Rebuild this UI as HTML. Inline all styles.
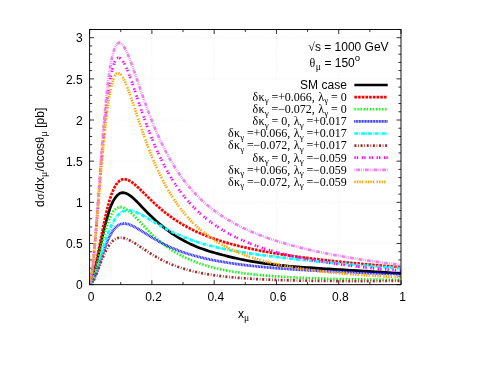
<!DOCTYPE html>
<html><head><meta charset="utf-8"><title>plot</title>
<style>
html,body{margin:0;padding:0;background:#fff;}
body{width:480px;height:371px;overflow:hidden;}
svg{display:block;will-change:transform;}
text{font-family:"Liberation Sans",sans-serif;font-size:12px;fill:#000;}
.sf{font-family:"Liberation Serif",serif;}
</style></head><body>
<svg width="480" height="371" viewBox="0 0 480 371">
<rect width="480" height="371" fill="#fff"/>
<g stroke="#e2e2e2" stroke-width="0.5" stroke-dasharray="0.9,1.25" fill="none"><line x1="89.6" x2="401.0" y1="243.49" y2="243.49"/><line x1="89.6" x2="401.0" y1="202.33" y2="202.33"/><line x1="89.6" x2="401.0" y1="161.17" y2="161.17"/><line x1="89.6" x2="401.0" y1="120.01" y2="120.01"/><line x1="89.6" x2="401.0" y1="78.85" y2="78.85"/><line x1="89.6" x2="401.0" y1="37.69" y2="37.69"/><line x1="151.88" x2="151.88" y1="29.5" y2="284.65"/><line x1="214.16" x2="214.16" y1="29.5" y2="284.65"/><line x1="276.44" x2="276.44" y1="29.5" y2="284.65"/><line x1="338.72" x2="338.72" y1="29.5" y2="284.65"/></g>
<rect x="186.9" y="79.6" width="214.1" height="108" fill="#fff"/>
<path d="M89.6,284.65h4.5 M401.0,284.65h-4.5 M89.6,276.42h2.6 M401.0,276.42h-2.6 M89.6,268.19h2.6 M401.0,268.19h-2.6 M89.6,259.95h2.6 M401.0,259.95h-2.6 M89.6,251.72h2.6 M401.0,251.72h-2.6 M89.6,243.49h4.5 M401.0,243.49h-4.5 M89.6,235.26h2.6 M401.0,235.26h-2.6 M89.6,227.03h2.6 M401.0,227.03h-2.6 M89.6,218.79h2.6 M401.0,218.79h-2.6 M89.6,210.56h2.6 M401.0,210.56h-2.6 M89.6,202.33h4.5 M401.0,202.33h-4.5 M89.6,194.10h2.6 M401.0,194.10h-2.6 M89.6,185.87h2.6 M401.0,185.87h-2.6 M89.6,177.63h2.6 M401.0,177.63h-2.6 M89.6,169.40h2.6 M401.0,169.40h-2.6 M89.6,161.17h4.5 M401.0,161.17h-4.5 M89.6,152.94h2.6 M401.0,152.94h-2.6 M89.6,144.71h2.6 M401.0,144.71h-2.6 M89.6,136.47h2.6 M401.0,136.47h-2.6 M89.6,128.24h2.6 M401.0,128.24h-2.6 M89.6,120.01h4.5 M401.0,120.01h-4.5 M89.6,111.78h2.6 M401.0,111.78h-2.6 M89.6,103.55h2.6 M401.0,103.55h-2.6 M89.6,95.31h2.6 M401.0,95.31h-2.6 M89.6,87.08h2.6 M401.0,87.08h-2.6 M89.6,78.85h4.5 M401.0,78.85h-4.5 M89.6,70.62h2.6 M401.0,70.62h-2.6 M89.6,62.39h2.6 M401.0,62.39h-2.6 M89.6,54.15h2.6 M401.0,54.15h-2.6 M89.6,45.92h2.6 M401.0,45.92h-2.6 M89.6,37.69h4.5 M401.0,37.69h-4.5 M89.6,29.46h2.6 M401.0,29.46h-2.6 M89.60,284.65v-4.5 M89.60,29.5v4.5 M120.74,284.65v-2.6 M120.74,29.5v2.6 M151.88,284.65v-4.5 M151.88,29.5v4.5 M183.02,284.65v-2.6 M183.02,29.5v2.6 M214.16,284.65v-4.5 M214.16,29.5v4.5 M245.30,284.65v-2.6 M245.30,29.5v2.6 M276.44,284.65v-4.5 M276.44,29.5v4.5 M307.58,284.65v-2.6 M307.58,29.5v2.6 M338.72,284.65v-4.5 M338.72,29.5v4.5 M369.86,284.65v-2.6 M369.86,29.5v2.6 M401.00,284.65v-4.5 M401.00,29.5v4.5" stroke="#000" stroke-width="0.8" fill="none"/>
<defs><filter id="bl" x="-5%" y="-5%" width="110%" height="110%"><feGaussianBlur stdDeviation="0.35"/></filter></defs>
<clipPath id="cp"><rect x="89.6" y="29.5" width="311.40" height="255.15"/></clipPath>
<g filter="url(#bl)" clip-path="url(#cp)">
<path d="M89.60,284.65 L91.17,282.30 L92.75,277.99 L94.32,272.46 L95.89,266.08 L97.46,259.15 L99.04,251.92 L100.61,244.63 L102.18,237.46 L103.75,230.60 L105.33,224.17 L106.90,218.28 L108.47,213.00 L110.05,208.35 L111.62,204.37 L113.19,201.09 L114.76,198.47 L116.34,196.36 L117.91,194.72 L119.48,193.58 L121.05,192.92 L122.63,192.67 L124.20,192.79 L125.77,193.22 L127.35,193.91 L128.92,194.82 L130.49,195.90 L132.06,197.13 L133.64,198.49 L135.21,199.95 L136.78,201.51 L138.35,203.13 L139.93,204.78 L141.50,206.46 L143.07,208.12 L144.65,209.77 L146.22,211.39 L147.79,212.97 L149.36,214.52 L150.94,216.03 L152.51,217.52 L154.08,218.98 L155.65,220.42 L157.23,221.82 L158.80,223.20 L160.37,224.55 L161.95,225.86 L163.52,227.14 L165.09,228.39 L166.66,229.60 L168.24,230.77 L169.81,231.92 L171.38,233.03 L172.95,234.10 L174.53,235.15 L176.10,236.16 L177.67,237.13 L179.25,238.08 L180.82,239.00 L182.39,239.89 L183.96,240.74 L187.11,242.38 L190.25,243.90 L193.40,245.33 L196.55,246.66 L199.69,247.89 L202.84,249.05 L205.98,250.14 L209.13,251.16 L212.27,252.12 L215.42,253.04 L218.56,253.91 L221.71,254.75 L224.85,255.56 L228.00,256.34 L231.15,257.10 L234.29,257.83 L237.44,258.54 L240.58,259.23 L243.73,259.88 L246.87,260.51 L250.02,261.11 L253.16,261.67 L256.31,262.19 L259.45,262.69 L262.60,263.15 L265.75,263.58 L268.89,263.99 L272.04,264.37 L275.18,264.73 L278.33,265.07 L281.47,265.40 L284.62,265.70 L287.76,265.99 L290.91,266.27 L294.05,266.54 L297.20,266.79 L300.35,267.03 L303.49,267.27 L306.64,267.50 L309.78,267.72 L312.93,267.93 L316.07,268.14 L319.22,268.34 L322.36,268.54 L325.51,268.74 L328.65,268.93 L331.80,269.12 L334.95,269.31 L338.09,269.50 L341.24,269.69 L344.38,269.87 L347.53,270.06 L350.67,270.24 L353.82,270.43 L356.96,270.62 L360.11,270.80 L363.25,270.99 L366.40,271.18 L369.55,271.37 L372.69,271.57 L375.84,271.76 L378.98,271.96 L382.13,272.16 L385.27,272.36 L388.42,272.56 L391.56,272.77 L394.71,272.98 L397.85,273.20 L401.00,273.41" stroke="#000000" stroke-width="2.7" fill="none" stroke-linejoin="round"/>
<path d="M89.60,284.65 L91.17,281.95 L92.75,277.12 L94.32,270.97 L95.89,263.89 L97.46,256.19 L99.04,248.14 L100.61,239.99 L102.18,231.95 L103.75,224.21 L105.33,216.92 L106.90,210.20 L108.47,204.14 L110.05,198.77 L111.62,194.11 L113.19,190.17 L114.76,186.92 L116.34,184.32 L117.91,182.32 L119.48,180.86 L121.05,179.88 L122.63,179.33 L124.20,179.16 L125.77,179.33 L127.35,179.77 L128.92,180.46 L130.49,181.34 L132.06,182.39 L133.64,183.57 L135.21,184.87 L136.78,186.24 L138.35,187.69 L139.93,189.18 L141.50,190.70 L143.07,192.24 L144.65,193.80 L146.22,195.35 L147.79,196.90 L149.36,198.44 L150.94,199.96 L152.51,201.46 L154.08,202.93 L155.65,204.38 L157.23,205.80 L158.80,207.19 L160.37,208.55 L161.95,209.88 L163.52,211.18 L165.09,212.44 L166.66,213.67 L168.24,214.87 L169.81,216.04 L171.38,217.18 L172.95,218.28 L174.53,219.36 L176.10,220.41 L177.67,221.43 L179.25,222.42 L180.82,223.38 L182.39,224.32 L183.96,225.23 L187.11,226.99 L190.25,228.65 L193.40,230.22 L196.55,231.71 L199.69,233.12 L202.84,234.46 L205.98,235.74 L209.13,236.95 L212.27,238.11 L215.42,239.21 L218.56,240.26 L221.71,241.26 L224.85,242.22 L228.00,243.14 L231.15,244.02 L234.29,244.86 L237.44,245.67 L240.58,246.45 L243.73,247.19 L246.87,247.91 L250.02,248.60 L253.16,249.27 L256.31,249.92 L259.45,250.54 L262.60,251.14 L265.75,251.72 L268.89,252.28 L272.04,252.83 L275.18,253.36 L278.33,253.87 L281.47,254.37 L284.62,254.86 L287.76,255.33 L290.91,255.79 L294.05,256.24 L297.20,256.67 L300.35,257.10 L303.49,257.51 L306.64,257.92 L309.78,258.32 L312.93,258.70 L316.07,259.08 L319.22,259.45 L322.36,259.82 L325.51,260.18 L328.65,260.53 L331.80,260.87 L334.95,261.21 L338.09,261.54 L341.24,261.86 L344.38,262.18 L347.53,262.50 L350.67,262.81 L353.82,263.11 L356.96,263.41 L360.11,263.71 L363.25,264.00 L366.40,264.28 L369.55,264.57 L372.69,264.84 L375.84,265.12 L378.98,265.39 L382.13,265.66 L385.27,265.92 L388.42,266.19 L391.56,266.44 L394.71,266.70 L397.85,266.95 L401.00,267.20" stroke="#ff0000" stroke-width="2.7" fill="none" stroke-linejoin="round" stroke-dasharray="2.614,1.076"/>
<path d="M89.60,284.65 L91.17,283.38 L92.75,280.06 L94.32,275.21 L95.89,269.28 L97.46,262.69 L99.04,255.80 L100.61,248.91 L102.18,242.27 L103.75,236.04 L105.33,230.36 L106.90,225.30 L108.47,220.91 L110.05,217.18 L111.62,214.11 L113.19,211.65 L114.76,209.78 L116.34,208.46 L117.91,207.63 L119.48,207.22 L121.05,207.20 L122.63,207.50 L124.20,208.09 L125.77,208.91 L127.35,209.94 L128.92,211.13 L130.49,212.46 L132.06,213.89 L133.64,215.41 L135.21,216.99 L136.78,218.62 L138.35,220.27 L139.93,221.94 L141.50,223.61 L143.07,225.27 L144.65,226.92 L146.22,228.56 L147.79,230.16 L149.36,231.74 L150.94,233.29 L152.51,234.80 L154.08,236.27 L155.65,237.71 L157.23,239.10 L158.80,240.46 L160.37,241.77 L161.95,243.05 L163.52,244.28 L165.09,245.47 L166.66,246.63 L168.24,247.75 L169.81,248.83 L171.38,249.87 L172.95,250.88 L174.53,251.85 L176.10,252.79 L177.67,253.69 L179.25,254.57 L180.82,255.41 L182.39,256.23 L183.96,257.01 L187.11,258.51 L190.25,259.89 L193.40,261.19 L196.55,262.39 L199.69,263.52 L202.84,264.56 L205.98,265.54 L209.13,266.45 L212.27,267.30 L215.42,268.09 L218.56,268.83 L221.71,269.52 L224.85,270.16 L228.00,270.76 L231.15,271.33 L234.29,271.85 L237.44,272.34 L240.58,272.80 L243.73,273.23 L246.87,273.63 L250.02,274.01 L253.16,274.36 L256.31,274.69 L259.45,275.00 L262.60,275.30 L265.75,275.57 L268.89,275.83 L272.04,276.08 L275.18,276.31 L278.33,276.52 L281.47,276.73 L284.62,276.92 L287.76,277.10 L290.91,277.28 L294.05,277.44 L297.20,277.59 L300.35,277.74 L303.49,277.88 L306.64,278.01 L309.78,278.13 L312.93,278.25 L316.07,278.36 L319.22,278.47 L322.36,278.57 L325.51,278.66 L328.65,278.75 L331.80,278.84 L334.95,278.92 L338.09,279.00 L341.24,279.07 L344.38,279.14 L347.53,279.20 L350.67,279.27 L353.82,279.32 L356.96,279.38 L360.11,279.43 L363.25,279.48 L366.40,279.53 L369.55,279.57 L372.69,279.62 L375.84,279.65 L378.98,279.69 L382.13,279.72 L385.27,279.76 L388.42,279.79 L391.56,279.81 L394.71,279.84 L397.85,279.86 L401.00,279.88" stroke="#00ff00" stroke-width="2.7" fill="none" stroke-linejoin="round" stroke-dasharray="1.384,1.691"/>
<path d="M89.60,284.65 L91.17,283.49 L92.75,281.10 L94.32,277.86 L95.89,273.99 L97.46,269.66 L99.04,265.05 L100.61,260.30 L102.18,255.57 L103.75,250.98 L105.33,246.62 L106.90,242.58 L108.47,238.90 L110.05,235.64 L111.62,232.79 L113.19,230.38 L114.76,228.38 L116.34,226.78 L117.91,225.55 L119.48,224.64 L121.05,224.03 L122.63,223.69 L124.20,223.59 L125.77,223.70 L127.35,223.98 L128.92,224.42 L130.49,224.99 L132.06,225.66 L133.64,226.42 L135.21,227.24 L136.78,228.12 L138.35,229.05 L139.93,230.00 L141.50,230.97 L143.07,231.96 L144.65,232.95 L146.22,233.94 L147.79,234.92 L149.36,235.90 L150.94,236.86 L152.51,237.81 L154.08,238.74 L155.65,239.65 L157.23,240.54 L158.80,241.42 L160.37,242.27 L161.95,243.10 L163.52,243.90 L165.09,244.69 L166.66,245.45 L168.24,246.19 L169.81,246.91 L171.38,247.61 L172.95,248.29 L174.53,248.95 L176.10,249.59 L177.67,250.20 L179.25,250.80 L180.82,251.39 L182.39,251.95 L183.96,252.50 L187.11,253.54 L190.25,254.53 L193.40,255.45 L196.55,256.32 L199.69,257.14 L202.84,257.92 L205.98,258.65 L209.13,259.34 L212.27,259.99 L215.42,260.60 L218.56,261.19 L221.71,261.74 L224.85,262.27 L228.00,262.77 L231.15,263.24 L234.29,263.69 L237.44,264.13 L240.58,264.54 L243.73,264.93 L246.87,265.30 L250.02,265.66 L253.16,266.00 L256.31,266.33 L259.45,266.64 L262.60,266.94 L265.75,267.23 L268.89,267.51 L272.04,267.78 L275.18,268.04 L278.33,268.29 L281.47,268.53 L284.62,268.76 L287.76,268.98 L290.91,269.20 L294.05,269.41 L297.20,269.61 L300.35,269.81 L303.49,270.00 L306.64,270.18 L309.78,270.37 L312.93,270.54 L316.07,270.71 L319.22,270.88 L322.36,271.04 L325.51,271.20 L328.65,271.35 L331.80,271.50 L334.95,271.65 L338.09,271.79 L341.24,271.94 L344.38,272.07 L347.53,272.21 L350.67,272.34 L353.82,272.47 L356.96,272.60 L360.11,272.73 L363.25,272.85 L366.40,272.97 L369.55,273.10 L372.69,273.21 L375.84,273.33 L378.98,273.45 L382.13,273.56 L385.27,273.67 L388.42,273.78 L391.56,273.89 L394.71,274.00 L397.85,274.11 L401.00,274.21" stroke="#0000ff" stroke-opacity="0.22" stroke-width="2.7" fill="none" stroke-linejoin="round"/>
<path d="M89.60,284.65 L91.17,283.49 L92.75,281.10 L94.32,277.86 L95.89,273.99 L97.46,269.66 L99.04,265.05 L100.61,260.30 L102.18,255.57 L103.75,250.98 L105.33,246.62 L106.90,242.58 L108.47,238.90 L110.05,235.64 L111.62,232.79 L113.19,230.38 L114.76,228.38 L116.34,226.78 L117.91,225.55 L119.48,224.64 L121.05,224.03 L122.63,223.69 L124.20,223.59 L125.77,223.70 L127.35,223.98 L128.92,224.42 L130.49,224.99 L132.06,225.66 L133.64,226.42 L135.21,227.24 L136.78,228.12 L138.35,229.05 L139.93,230.00 L141.50,230.97 L143.07,231.96 L144.65,232.95 L146.22,233.94 L147.79,234.92 L149.36,235.90 L150.94,236.86 L152.51,237.81 L154.08,238.74 L155.65,239.65 L157.23,240.54 L158.80,241.42 L160.37,242.27 L161.95,243.10 L163.52,243.90 L165.09,244.69 L166.66,245.45 L168.24,246.19 L169.81,246.91 L171.38,247.61 L172.95,248.29 L174.53,248.95 L176.10,249.59 L177.67,250.20 L179.25,250.80 L180.82,251.39 L182.39,251.95 L183.96,252.50 L187.11,253.54 L190.25,254.53 L193.40,255.45 L196.55,256.32 L199.69,257.14 L202.84,257.92 L205.98,258.65 L209.13,259.34 L212.27,259.99 L215.42,260.60 L218.56,261.19 L221.71,261.74 L224.85,262.27 L228.00,262.77 L231.15,263.24 L234.29,263.69 L237.44,264.13 L240.58,264.54 L243.73,264.93 L246.87,265.30 L250.02,265.66 L253.16,266.00 L256.31,266.33 L259.45,266.64 L262.60,266.94 L265.75,267.23 L268.89,267.51 L272.04,267.78 L275.18,268.04 L278.33,268.29 L281.47,268.53 L284.62,268.76 L287.76,268.98 L290.91,269.20 L294.05,269.41 L297.20,269.61 L300.35,269.81 L303.49,270.00 L306.64,270.18 L309.78,270.37 L312.93,270.54 L316.07,270.71 L319.22,270.88 L322.36,271.04 L325.51,271.20 L328.65,271.35 L331.80,271.50 L334.95,271.65 L338.09,271.79 L341.24,271.94 L344.38,272.07 L347.53,272.21 L350.67,272.34 L353.82,272.47 L356.96,272.60 L360.11,272.73 L363.25,272.85 L366.40,272.97 L369.55,273.10 L372.69,273.21 L375.84,273.33 L378.98,273.45 L382.13,273.56 L385.27,273.67 L388.42,273.78 L391.56,273.89 L394.71,274.00 L397.85,274.11 L401.00,274.21" stroke="#0000ff" stroke-width="2.7" fill="none" stroke-linejoin="round" stroke-dasharray="0.646,0.892"/>
<path d="M89.60,284.65 L91.17,283.31 L92.75,280.59 L94.32,276.92 L95.89,272.55 L97.46,267.67 L99.04,262.48 L100.61,257.13 L102.18,251.79 L103.75,246.56 L105.33,241.56 L106.90,236.86 L108.47,232.52 L110.05,228.59 L111.62,225.07 L113.19,221.98 L114.76,219.31 L116.34,217.05 L117.91,215.18 L119.48,213.68 L121.05,212.51 L122.63,211.62 L124.20,211.00 L125.77,210.61 L127.35,210.44 L128.92,210.45 L130.49,210.63 L132.06,210.95 L133.64,211.39 L135.21,211.93 L136.78,212.56 L138.35,213.27 L139.93,214.03 L141.50,214.84 L143.07,215.69 L144.65,216.57 L146.22,217.47 L147.79,218.38 L149.36,219.31 L150.94,220.24 L152.51,221.17 L154.08,222.10 L155.65,223.02 L157.23,223.93 L158.80,224.84 L160.37,225.73 L161.95,226.61 L163.52,227.48 L165.09,228.33 L166.66,229.17 L168.24,229.98 L169.81,230.79 L171.38,231.57 L172.95,232.34 L174.53,233.08 L176.10,233.82 L177.67,234.53 L179.25,235.22 L180.82,235.90 L182.39,236.56 L183.96,237.21 L187.11,238.44 L190.25,239.62 L193.40,240.73 L196.55,241.78 L199.69,242.78 L202.84,243.72 L205.98,244.62 L209.13,245.47 L212.27,246.27 L215.42,247.03 L218.56,247.75 L221.71,248.44 L224.85,249.09 L228.00,249.71 L231.15,250.31 L234.29,250.88 L237.44,251.42 L240.58,251.95 L243.73,252.45 L246.87,252.94 L250.02,253.41 L253.16,253.87 L256.31,254.31 L259.45,254.75 L262.60,255.17 L265.75,255.58 L268.89,255.99 L272.04,256.38 L275.18,256.77 L278.33,257.16 L281.47,257.54 L284.62,257.91 L287.76,258.28 L290.91,258.64 L294.05,258.99 L297.20,259.34 L300.35,259.69 L303.49,260.03 L306.64,260.36 L309.78,260.69 L312.93,261.02 L316.07,261.34 L319.22,261.65 L322.36,261.96 L325.51,262.26 L328.65,262.56 L331.80,262.86 L334.95,263.15 L338.09,263.43 L341.24,263.72 L344.38,263.99 L347.53,264.26 L350.67,264.53 L353.82,264.80 L356.96,265.06 L360.11,265.31 L363.25,265.56 L366.40,265.81 L369.55,266.05 L372.69,266.29 L375.84,266.52 L378.98,266.75 L382.13,266.98 L385.27,267.20 L388.42,267.42 L391.56,267.63 L394.71,267.84 L397.85,268.04 L401.00,268.25" stroke="#00ffff" stroke-width="2.7" fill="none" stroke-linejoin="round" stroke-dasharray="3.844,1.076,0.769,1.076"/>
<path d="M89.60,284.65 L91.17,283.93 L92.75,281.94 L94.32,278.99 L95.89,275.38 L97.46,271.38 L99.04,267.21 L100.61,263.06 L102.18,259.07 L103.75,255.33 L105.33,251.92 L106.90,248.87 L108.47,246.21 L110.05,243.95 L111.62,242.07 L113.19,240.57 L114.76,239.42 L116.34,238.57 L117.91,238.01 L119.48,237.71 L121.05,237.65 L122.63,237.78 L124.20,238.10 L125.77,238.57 L127.35,239.17 L128.92,239.88 L130.49,240.68 L132.06,241.55 L133.64,242.48 L135.21,243.45 L136.78,244.46 L138.35,245.50 L139.93,246.54 L141.50,247.60 L143.07,248.65 L144.65,249.70 L146.22,250.74 L147.79,251.76 L149.36,252.77 L150.94,253.75 L152.51,254.72 L154.08,255.66 L155.65,256.58 L157.23,257.47 L158.80,258.34 L160.37,259.18 L161.95,259.99 L163.52,260.78 L165.09,261.54 L166.66,262.28 L168.24,262.99 L169.81,263.67 L171.38,264.33 L172.95,264.96 L174.53,265.57 L176.10,266.16 L177.67,266.73 L179.25,267.28 L180.82,267.80 L182.39,268.30 L183.96,268.79 L187.11,269.70 L190.25,270.55 L193.40,271.33 L196.55,272.05 L199.69,272.72 L202.84,273.34 L205.98,273.91 L209.13,274.44 L212.27,274.93 L215.42,275.39 L218.56,275.81 L221.71,276.20 L224.85,276.56 L228.00,276.90 L231.15,277.22 L234.29,277.51 L237.44,277.78 L240.58,278.03 L243.73,278.27 L246.87,278.49 L250.02,278.69 L253.16,278.88 L256.31,279.06 L259.45,279.22 L262.60,279.38 L265.75,279.52 L268.89,279.66 L272.04,279.78 L275.18,279.90 L278.33,280.01 L281.47,280.11 L284.62,280.21 L287.76,280.29 L290.91,280.38 L294.05,280.45 L297.20,280.52 L300.35,280.59 L303.49,280.65 L306.64,280.71 L309.78,280.76 L312.93,280.80 L316.07,280.85 L319.22,280.89 L322.36,280.92 L325.51,280.95 L328.65,280.98 L331.80,281.01 L334.95,281.03 L338.09,281.05 L341.24,281.06 L344.38,281.08 L347.53,281.09 L350.67,281.09 L353.82,281.10 L356.96,281.10 L360.11,281.10 L363.25,281.09 L366.40,281.09 L369.55,281.08 L372.69,281.06 L375.84,281.05 L378.98,281.03 L382.13,281.01 L385.27,280.99 L388.42,280.96 L391.56,280.94 L394.71,280.90 L397.85,280.87 L401.00,280.83" stroke="#a52a2a" stroke-width="2.7" fill="none" stroke-linejoin="round" stroke-dasharray="1.999,1.691,0.769,1.691"/>
<path d="M89.60,284.65 L91.17,278.55 L92.75,266.42 L94.32,250.48 L95.89,231.96 L97.46,211.91 L99.04,191.24 L100.61,170.77 L102.18,151.18 L103.75,133.00 L105.33,116.61 L106.90,102.25 L108.47,90.04 L110.05,79.98 L111.62,72.00 L113.19,65.98 L114.76,61.74 L116.34,59.10 L117.91,57.87 L119.48,57.84 L121.05,58.85 L122.63,60.72 L124.20,63.30 L125.77,66.46 L127.35,70.07 L128.92,74.03 L130.49,78.26 L132.06,82.69 L133.64,87.24 L135.21,91.87 L136.78,96.53 L138.35,101.20 L139.93,105.83 L141.50,110.41 L143.07,114.92 L144.65,119.35 L146.22,123.68 L147.79,127.91 L149.36,132.04 L150.94,136.04 L152.51,139.94 L154.08,143.72 L155.65,147.38 L157.23,150.93 L158.80,154.37 L160.37,157.69 L161.95,160.91 L163.52,164.01 L165.09,167.02 L166.66,169.92 L168.24,172.73 L169.81,175.45 L171.38,178.07 L172.95,180.60 L174.53,183.05 L176.10,185.42 L177.67,187.71 L179.25,189.93 L180.82,192.07 L182.39,194.14 L183.96,196.14 L187.11,199.96 L190.25,203.54 L193.40,206.89 L196.55,210.05 L199.69,213.01 L202.84,215.80 L205.98,218.43 L209.13,220.91 L212.27,223.24 L215.42,225.46 L218.56,227.55 L221.71,229.53 L224.85,231.41 L228.00,233.19 L231.15,234.88 L234.29,236.49 L237.44,238.01 L240.58,239.47 L243.73,240.86 L246.87,242.18 L250.02,243.44 L253.16,244.65 L256.31,245.80 L259.45,246.91 L262.60,247.96 L265.75,248.97 L268.89,249.94 L272.04,250.87 L275.18,251.77 L278.33,252.63 L281.47,253.45 L284.62,254.24 L287.76,255.00 L290.91,255.74 L294.05,256.45 L297.20,257.13 L300.35,257.78 L303.49,258.42 L306.64,259.03 L309.78,259.62 L312.93,260.19 L316.07,260.74 L319.22,261.28 L322.36,261.79 L325.51,262.29 L328.65,262.78 L331.80,263.24 L334.95,263.70 L338.09,264.14 L341.24,264.56 L344.38,264.98 L347.53,265.38 L350.67,265.77 L353.82,266.15 L356.96,266.52 L360.11,266.87 L363.25,267.22 L366.40,267.56 L369.55,267.89 L372.69,268.21 L375.84,268.52 L378.98,268.82 L382.13,269.11 L385.27,269.40 L388.42,269.68 L391.56,269.95 L394.71,270.22 L397.85,270.48 L401.00,270.73" stroke="#ff00ff" stroke-width="2.7" fill="none" stroke-linejoin="round" stroke-dasharray="1.384,1.076,1.384,3.536"/>
<path d="M89.60,284.65 L91.17,279.10 L92.75,267.00 L94.32,250.43 L95.89,230.78 L97.46,209.31 L99.04,187.11 L100.61,165.12 L102.18,144.12 L103.75,124.67 L105.33,107.16 L106.90,91.83 L108.47,78.76 L110.05,67.96 L111.62,59.32 L113.19,52.69 L114.76,47.91 L116.34,44.76 L117.91,43.05 L119.48,42.60 L121.05,43.21 L122.63,44.72 L124.20,46.98 L125.77,49.85 L127.35,53.20 L128.92,56.95 L130.49,60.99 L132.06,65.25 L133.64,69.68 L135.21,74.20 L136.78,78.79 L138.35,83.40 L139.93,88.00 L141.50,92.56 L143.07,97.08 L144.65,101.52 L146.22,105.88 L147.79,110.15 L149.36,114.33 L150.94,118.39 L152.51,122.36 L154.08,126.21 L155.65,129.95 L157.23,133.58 L158.80,137.10 L160.37,140.52 L161.95,143.83 L163.52,147.03 L165.09,150.13 L166.66,153.13 L168.24,156.04 L169.81,158.85 L171.38,161.57 L172.95,164.20 L174.53,166.75 L176.10,169.22 L177.67,171.61 L179.25,173.92 L180.82,176.15 L182.39,178.32 L183.96,180.42 L187.11,184.42 L190.25,188.18 L193.40,191.72 L196.55,195.05 L199.69,198.19 L202.84,201.14 L205.98,203.94 L209.13,206.58 L212.27,209.08 L215.42,211.45 L218.56,213.70 L221.71,215.83 L224.85,217.86 L228.00,219.79 L231.15,221.63 L234.29,223.39 L237.44,225.07 L240.58,226.67 L243.73,228.20 L246.87,229.66 L250.02,231.07 L253.16,232.42 L256.31,233.71 L259.45,234.96 L262.60,236.15 L265.75,237.31 L268.89,238.42 L272.04,239.49 L275.18,240.52 L278.33,241.52 L281.47,242.48 L284.62,243.41 L287.76,244.31 L290.91,245.19 L294.05,246.03 L297.20,246.85 L300.35,247.65 L303.49,248.42 L306.64,249.17 L309.78,249.90 L312.93,250.61 L316.07,251.30 L319.22,251.97 L322.36,252.63 L325.51,253.27 L328.65,253.89 L331.80,254.49 L334.95,255.09 L338.09,255.66 L341.24,256.23 L344.38,256.78 L347.53,257.32 L350.67,257.85 L353.82,258.36 L356.96,258.87 L360.11,259.36 L363.25,259.85 L366.40,260.32 L369.55,260.78 L372.69,261.24 L375.84,261.68 L378.98,262.12 L382.13,262.55 L385.27,262.97 L388.42,263.38 L391.56,263.79 L394.71,264.19 L397.85,264.58 L401.00,264.96" stroke="#ee82ee" stroke-width="2.7" fill="none" stroke-linejoin="round" stroke-dasharray="0.769,1.076,3.844,1.076,0.769,1.076"/>
<path d="M89.60,284.65 L91.17,278.07 L92.75,265.90 L94.32,250.47 L95.89,232.95 L97.46,214.21 L99.04,195.03 L100.61,176.09 L102.18,157.96 L103.75,141.12 L105.33,125.93 L106.90,112.64 L108.47,101.36 L110.05,92.14 L111.62,84.91 L113.19,79.55 L114.76,75.92 L116.34,73.84 L117.91,73.11 L119.48,73.55 L121.05,74.98 L122.63,77.22 L124.20,80.13 L125.77,83.58 L127.35,87.44 L128.92,91.61 L130.49,96.02 L132.06,100.59 L133.64,105.26 L135.21,109.98 L136.78,114.71 L138.35,119.42 L139.93,124.09 L141.50,128.68 L143.07,133.19 L144.65,137.61 L146.22,141.92 L147.79,146.12 L149.36,150.21 L150.94,154.18 L152.51,158.03 L154.08,161.75 L155.65,165.36 L157.23,168.85 L158.80,172.23 L160.37,175.49 L161.95,178.64 L163.52,181.69 L165.09,184.63 L166.66,187.47 L168.24,190.21 L169.81,192.85 L171.38,195.41 L172.95,197.87 L174.53,200.25 L176.10,202.55 L177.67,204.77 L179.25,206.92 L180.82,208.99 L182.39,210.99 L183.96,212.92 L187.11,216.59 L190.25,220.02 L193.40,223.23 L196.55,226.23 L199.69,229.05 L202.84,231.68 L205.98,234.16 L209.13,236.48 L212.27,238.66 L215.42,240.71 L218.56,242.64 L221.71,244.46 L224.85,246.18 L228.00,247.79 L231.15,249.32 L234.29,250.76 L237.44,252.13 L240.58,253.41 L243.73,254.63 L246.87,255.79 L250.02,256.88 L253.16,257.92 L256.31,258.91 L259.45,259.84 L262.60,260.73 L265.75,261.58 L268.89,262.38 L272.04,263.14 L275.18,263.87 L278.33,264.56 L281.47,265.22 L284.62,265.85 L287.76,266.45 L290.91,267.02 L294.05,267.57 L297.20,268.09 L300.35,268.58 L303.49,269.06 L306.64,269.52 L309.78,269.95 L312.93,270.37 L316.07,270.77 L319.22,271.15 L322.36,271.51 L325.51,271.86 L328.65,272.20 L331.80,272.52 L334.95,272.83 L338.09,273.12 L341.24,273.41 L344.38,273.68 L347.53,273.94 L350.67,274.19 L353.82,274.43 L356.96,274.66 L360.11,274.88 L363.25,275.10 L366.40,275.30 L369.55,275.50 L372.69,275.69 L375.84,275.87 L378.98,276.05 L382.13,276.22 L385.27,276.38 L388.42,276.54 L391.56,276.69 L394.71,276.83 L397.85,276.97 L401.00,277.10" stroke="#ffa500" stroke-width="2.7" fill="none" stroke-linejoin="round" stroke-dasharray="1.384,1.076,1.384,1.076,1.384,1.076,1.384,2.306"/>
</g>
<rect x="89.6" y="29.5" width="311.40" height="255.15" fill="none" stroke="#000" stroke-width="0.95"/>
<text x="82.6" y="289.35" text-anchor="end">0</text><text x="82.6" y="248.19" text-anchor="end">0.5</text><text x="82.6" y="207.03" text-anchor="end">1</text><text x="82.6" y="165.87" text-anchor="end">1.5</text><text x="82.6" y="124.71" text-anchor="end">2</text><text x="82.6" y="83.55" text-anchor="end">2.5</text><text x="82.6" y="42.39" text-anchor="end">3</text><text x="91.20" y="300.6" text-anchor="middle">0</text><text x="153.48" y="300.6" text-anchor="middle">0.2</text><text x="215.76" y="300.6" text-anchor="middle">0.4</text><text x="278.04" y="300.6" text-anchor="middle">0.6</text><text x="340.32" y="300.6" text-anchor="middle">0.8</text><text x="402.60" y="300.6" text-anchor="middle">1</text>
<text><tspan x="237.90" y="317.60">x</tspan><tspan x="244.09" y="320.60" class="sf" font-size="9.6">μ</tspan></text>
<text transform="translate(43.7,207.0) rotate(-90)"><tspan x="0.00" y="0.00">d</tspan><tspan x="7.06" y="0.00" class="sf">σ</tspan><tspan x="13.91 17.24 23.92" y="0.00">/dx</tspan><tspan x="30.11" y="3.00" class="sf" font-size="9.6">μ</tspan><tspan x="35.45 38.78 45.45 51.45 58.13" y="0.00">/dcos</tspan><tspan x="64.38" y="0.00" class="sf">θ</tspan><tspan x="70.57" y="3.00" class="sf" font-size="9.6">μ</tspan><tspan x="75.91 79.24 82.58 89.25 95.92" y="0.00"> [pb]</tspan></text>
<text><tspan x="308.30" y="51.00" class="sf">√</tspan><tspan x="314.89 320.89 324.22 331.23 334.57 341.24 347.91 354.58 361.26 364.59 373.93 380.60" y="51.00">s = 1000 GeV</tspan></text>
<text><tspan x="309.55" y="66.80" class="sf">θ</tspan><tspan x="315.74" y="69.80" class="sf" font-size="9.6">μ</tspan><tspan x="321.08 324.42 331.43 334.76 341.43 348.11" y="66.80"> = 150</tspan><tspan x="354.78" y="61.20" font-size="9.6">o</tspan></text>
<g filter="url(#bl)">
<path d="M354.4,85.00H387.7" stroke="#000000" stroke-width="2.7" fill="none"/>
<path d="M354.4,97.12H387.7" stroke="#ff0000" stroke-width="2.7" fill="none" stroke-dasharray="2.614,1.076"/>
<path d="M354.4,109.24H387.7" stroke="#00ff00" stroke-width="2.7" fill="none" stroke-dasharray="1.384,1.691"/>
<path d="M354.4,121.36H387.7" stroke="#0000ff" stroke-opacity="0.22" stroke-width="2.7" fill="none"/><path d="M354.4,121.36H387.7" stroke="#0000ff" stroke-width="2.7" fill="none" stroke-dasharray="0.646,0.892"/>
<path d="M354.4,133.48H387.7" stroke="#00ffff" stroke-width="2.7" fill="none" stroke-dasharray="3.844,1.076,0.769,1.076"/>
<path d="M354.4,145.60H387.7" stroke="#a52a2a" stroke-width="2.7" fill="none" stroke-dasharray="1.999,1.691,0.769,1.691"/>
<path d="M354.4,157.72H387.7" stroke="#ff00ff" stroke-width="2.7" fill="none" stroke-dasharray="1.384,1.076,1.384,3.536"/>
<path d="M354.4,169.84H387.7" stroke="#ee82ee" stroke-width="2.7" fill="none" stroke-dasharray="0.769,1.076,3.844,1.076,0.769,1.076"/>
<path d="M354.4,181.96H387.7" stroke="#ffa500" stroke-width="2.7" fill="none" stroke-dasharray="1.384,1.076,1.384,1.076,1.384,1.076,1.384,2.306"/>
</g>
<text><tspan x="300.12 308.12 318.12 321.46 327.46 334.13 340.13" y="89.20">SM case</tspan></text>
<text><tspan x="252.51 258.57" y="100.92" class="sf">δκ</tspan><tspan x="264.74" y="103.42" class="sf" font-size="9.2">γ</tspan><tspan x="268.67 271.58 278.16 284.84 290.84 293.84 299.84 305.84 311.84 314.84 318.23" y="100.92" class="sf"> =+0.066, λ</tspan><tspan x="324.29" y="103.42" class="sf" font-size="9.2">γ</tspan><tspan x="328.21 331.12 337.80 340.80" y="100.92" class="sf"> = 0</tspan></text>
<text><tspan x="252.51 258.57" y="113.04" class="sf">δκ</tspan><tspan x="264.74" y="115.54" class="sf" font-size="9.2">γ</tspan><tspan x="268.67 271.58 278.16 284.84 290.84 293.84 299.84 305.84 311.84 314.84 318.23" y="113.04" class="sf"> =−0.072, λ</tspan><tspan x="324.29" y="115.54" class="sf" font-size="9.2">γ</tspan><tspan x="328.21 331.12 337.80 340.80" y="113.04" class="sf"> = 0</tspan></text>
<text><tspan x="252.51 258.57" y="125.16" class="sf">δκ</tspan><tspan x="264.74" y="127.66" class="sf" font-size="9.2">γ</tspan><tspan x="268.67 271.58 278.25 281.25 287.25 290.25 293.64" y="125.16" class="sf"> = 0, λ</tspan><tspan x="299.70" y="127.66" class="sf" font-size="9.2">γ</tspan><tspan x="303.62 306.53 313.12 319.80 325.80 328.80 334.80 340.80" y="125.16" class="sf"> =+0.017</tspan></text>
<text><tspan x="227.92 233.98" y="137.28" class="sf">δκ</tspan><tspan x="240.16" y="139.78" class="sf" font-size="9.2">γ</tspan><tspan x="244.08 246.99 253.58 260.25 266.25 269.25 275.25 281.25 287.25 290.25 293.64" y="137.28" class="sf"> =+0.066, λ</tspan><tspan x="299.70" y="139.78" class="sf" font-size="9.2">γ</tspan><tspan x="303.62 306.53 313.12 319.80 325.80 328.80 334.80 340.80" y="137.28" class="sf"> =+0.017</tspan></text>
<text><tspan x="227.92 233.98" y="149.40" class="sf">δκ</tspan><tspan x="240.16" y="151.90" class="sf" font-size="9.2">γ</tspan><tspan x="244.08 246.99 253.58 260.25 266.25 269.25 275.25 281.25 287.25 290.25 293.64" y="149.40" class="sf"> =−0.072, λ</tspan><tspan x="299.70" y="151.90" class="sf" font-size="9.2">γ</tspan><tspan x="303.62 306.53 313.12 319.80 325.80 328.80 334.80 340.80" y="149.40" class="sf"> =+0.017</tspan></text>
<text><tspan x="252.51 258.57" y="161.52" class="sf">δκ</tspan><tspan x="264.74" y="164.02" class="sf" font-size="9.2">γ</tspan><tspan x="268.67 271.58 278.25 281.25 287.25 290.25 293.64" y="161.52" class="sf"> = 0, λ</tspan><tspan x="299.70" y="164.02" class="sf" font-size="9.2">γ</tspan><tspan x="303.62 306.53 313.12 319.80 325.80 328.80 334.80 340.80" y="161.52" class="sf"> =−0.059</tspan></text>
<text><tspan x="227.92 233.98" y="173.64" class="sf">δκ</tspan><tspan x="240.16" y="176.14" class="sf" font-size="9.2">γ</tspan><tspan x="244.08 246.99 253.58 260.25 266.25 269.25 275.25 281.25 287.25 290.25 293.64" y="173.64" class="sf"> =+0.066, λ</tspan><tspan x="299.70" y="176.14" class="sf" font-size="9.2">γ</tspan><tspan x="303.62 306.53 313.12 319.80 325.80 328.80 334.80 340.80" y="173.64" class="sf"> =−0.059</tspan></text>
<text><tspan x="227.92 233.98" y="185.76" class="sf">δκ</tspan><tspan x="240.16" y="188.26" class="sf" font-size="9.2">γ</tspan><tspan x="244.08 246.99 253.58 260.25 266.25 269.25 275.25 281.25 287.25 290.25 293.64" y="185.76" class="sf"> =−0.072, λ</tspan><tspan x="299.70" y="188.26" class="sf" font-size="9.2">γ</tspan><tspan x="303.62 306.53 313.12 319.80 325.80 328.80 334.80 340.80" y="185.76" class="sf"> =−0.059</tspan></text>
</svg></body></html>
